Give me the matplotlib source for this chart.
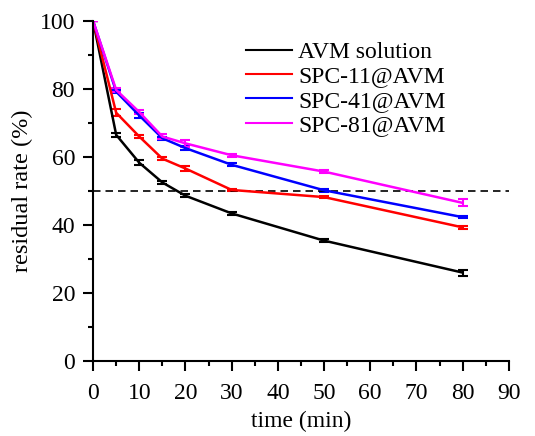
import matplotlib
matplotlib.use("Agg")
import matplotlib.pyplot as plt
from matplotlib.lines import Line2D
from matplotlib.ticker import MultipleLocator

plt.rcParams['font.family'] = ['Liberation Serif', 'DejaVu Serif']

time_min = [0, 5, 10, 15, 20, 30, 50, 80]
labels = ['AVM solution', 'SPC-11@AVM', 'SPC-41@AVM', 'SPC-81@AVM']
colors = ['black', 'red', 'blue', 'magenta']

avm = [100, 66.5, 58.3, 52.5, 48.6, 43.4, 35.4, 26.0]
spc11 = [100, 73.0, 66.0, 59.5, 56.6, 50.3, 48.2, 39.3]
spc41 = [100, 79.2, 72.2, 65.5, 62.6, 57.7, 50.2, 42.3]
spc81 = [100, 79.7, 73.2, 66.0, 64.0, 60.5, 55.7, 46.5]

avm_err = [0, 0.6, 0.8, 0.4, 0.4, 0.4, 0.4, 0.9]
spc11_err = [0, 1.1, 0.5, 0.5, 0.7, 0.4, 0.4, 0.4]
spc41_err = [0, 0.5, 0.7, 0.4, 0.6, 0.4, 0.4, 0.3]
spc81_err = [0, 0.6, 0.6, 0.7, 1.0, 0.4, 0.4, 1.0]

series = [avm, spc11, spc41, spc81]
errors = [avm_err, spc11_err, spc41_err, spc81_err]

fig = plt.figure(figsize=(5.35, 4.36), dpi=100)
ax = fig.add_axes([0.174, 0.172, 0.777, 0.780])

for y, e, c in zip(series, errors, colors):
    ax.errorbar(time_min, y, yerr=e, color=c, lw=1.8, capsize=3.6,
                capthick=1.5, elinewidth=1.5)

ax.axhline(50, color='black', ls=(0, (4.5, 3)), lw=1.2)

ax.set_xlim(0, 90)
ax.set_ylim(0, 100)
ax.xaxis.set_major_locator(MultipleLocator(10))
ax.xaxis.set_minor_locator(MultipleLocator(5))
ax.yaxis.set_major_locator(MultipleLocator(20))
ax.yaxis.set_minor_locator(MultipleLocator(10))
ax.spines['top'].set_visible(False)
ax.spines['right'].set_visible(False)
for s in ['left', 'bottom']:
    ax.spines[s].set_linewidth(1.5)
ax.tick_params(which='major', direction='out', length=7, width=1.5,
               labelsize=17, pad=6)
ax.tick_params(axis='x', which='major', pad=9)
ax.tick_params(which='minor', direction='out', length=3.5, width=1.5)

ax.set_xlabel('time (min)', fontsize=17, labelpad=5)
ax.set_ylabel('residual rate (%)', fontsize=17.5, labelpad=5)

handles = [Line2D([], [], color=c, lw=1.5) for c in colors]
ax.legend(handles, labels, loc='upper left', bbox_to_anchor=(0.368, 0.94),
          frameon=False, fontsize=17, handlelength=1.95, handletextpad=0.25,
          labelspacing=0.12, borderaxespad=0, borderpad=0)

fig.savefig('out.png', dpi=100)
